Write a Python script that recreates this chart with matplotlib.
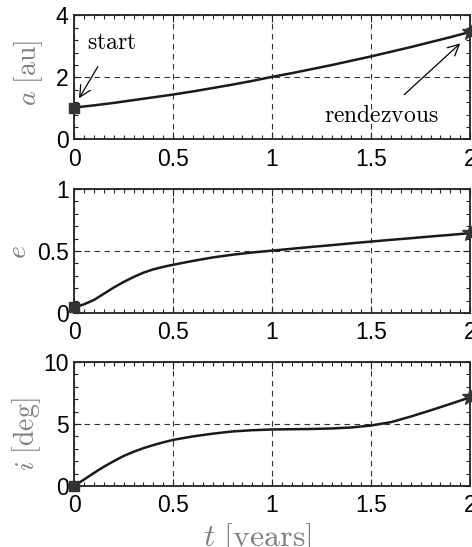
import matplotlib
matplotlib.use("Agg")
import matplotlib.pyplot as plt
from matplotlib.ticker import MultipleLocator, FormatStrFormatter

plt.rcParams['mathtext.fontset'] = 'cm'
plt.rcParams['font.family'] = ['Liberation Sans', 'DejaVu Sans']

# Time grid (years) and the three orbital elements
t = [0.0, 0.1, 0.2, 0.3, 0.4, 0.5, 0.6, 0.7, 0.8, 0.9, 1.0,
     1.1, 1.2, 1.3, 1.4, 1.5, 1.6, 1.7, 1.8, 1.9, 2.0]
a_au = [1.03, 1.10, 1.18, 1.27, 1.36, 1.45, 1.55, 1.66, 1.77, 1.89, 2.02,
        2.14, 2.27, 2.40, 2.54, 2.68, 2.83, 2.98, 3.14, 3.30, 3.47]

t_fine = [0.0, 0.05, 0.1, 0.15, 0.2, 0.25, 0.3, 0.35, 0.4, 0.45, 0.5,
          0.6, 0.7, 0.8, 0.9, 1.0, 1.1, 1.2, 1.3, 1.4, 1.5, 1.6, 1.7, 1.8, 1.9, 2.0]
ecc = [0.045, 0.07, 0.105, 0.155, 0.205, 0.25, 0.29, 0.325, 0.352, 0.372, 0.389,
       0.42, 0.448, 0.47, 0.488, 0.503, 0.518, 0.533, 0.547, 0.562, 0.576,
       0.59, 0.603, 0.617, 0.63, 0.644]
inc_deg = [0.0, 0.52, 1.05, 1.55, 2.0, 2.42, 2.76, 3.05, 3.3, 3.52, 3.72,
           4.0, 4.22, 4.4, 4.5, 4.56, 4.58, 4.6, 4.64, 4.72, 4.88,
           5.15, 5.6, 6.1, 6.62, 7.15]

xticks = [0, 0.5, 1, 1.5, 2]

fig = plt.figure(figsize=(4.72, 5.47), dpi=100)
left, width, height = 0.157, 0.839, 0.2267
ax1 = fig.add_axes([left, 0.745, width, height])
ax2 = fig.add_axes([left, 0.4278, width, height])
ax3 = fig.add_axes([left, 0.1115, width, height])

label_color = '#808080'
line_color = '#1a1a1a'
mark_color = '#333333'

panels = [
    (ax1, t, a_au, (0, 4), [0, 2, 4], 0.4, r'$a\ [\mathrm{au}]$', (-0.116, 0.538)),
    (ax2, t_fine, ecc, (0, 1), [0, 0.5, 1], 0.1, r'$e$', (-0.139, 0.49)),
    (ax3, t_fine, inc_deg, (0, 10), [0, 5, 10], 1, r'$i\ [\mathrm{deg}]$', (-0.119, 0.415)),
]

for ax, x, y, ylim, yticks, yminor, ylabel, lpos in panels:
    ax.plot(x, y, color=line_color, lw=1.8, zorder=3)
    ax.plot(x[0], y[0], 's', color=mark_color, ms=7, clip_on=False, zorder=4)
    ax.plot(x[-1], y[-1], '*', color=mark_color, ms=12, clip_on=False, zorder=4)
    ax.set_xlim(0, 2)
    ax.set_ylim(*ylim)
    ax.set_xticks(xticks)
    ax.set_yticks(yticks)
    ax.xaxis.set_minor_locator(MultipleLocator(0.05))
    ax.yaxis.set_minor_locator(MultipleLocator(yminor))
    ax.xaxis.set_major_formatter(FormatStrFormatter('%g'))
    ax.yaxis.set_major_formatter(FormatStrFormatter('%g'))
    ax.tick_params(which='both', direction='in', top=True, right=True,
                   labelsize=16.5, color='#222222', width=0.8)
    ax.tick_params(which='major', length=5)
    ax.tick_params(which='minor', length=3)
    ax.tick_params(axis='x', pad=6)
    ax.tick_params(axis='y', pad=4)
    ax.grid(which='major', linestyle=(0, (5, 4)), color='#333333', linewidth=0.8)
    for s in ax.spines.values():
        s.set_linewidth(1.3)
        s.set_color('#222222')
    ax.set_ylabel(ylabel, fontsize=20, color=label_color, va='center')
    ax.yaxis.set_label_coords(*lpos)

# annotations on the top panel
ax1.annotate(r'$\mathrm{start}$', xy=(0.025, 1.33), xytext=(0.19, 3.1),
             fontsize=17, ha='center', va='center',
             arrowprops=dict(arrowstyle='->', color='black', lw=0.9,
                             mutation_scale=20, shrinkA=8, shrinkB=0))
ax1.annotate(r'$\mathrm{rendezvous}$', xy=(1.95, 3.1), xytext=(1.55, 0.76),
             fontsize=17, ha='center', va='center',
             arrowprops=dict(arrowstyle='->', color='black', lw=0.9,
                             mutation_scale=20, shrinkA=8, shrinkB=0))

ax3.set_xlabel(r'$t\ [\mathrm{years}]$', fontsize=23, color=label_color, va='center')
ax3.xaxis.set_label_coords(0.463, -0.42)

fig.savefig('out.png', dpi=100)
